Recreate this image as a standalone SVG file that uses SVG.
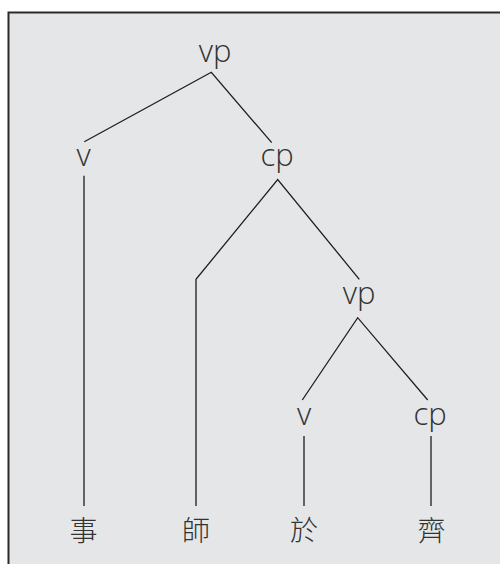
<svg xmlns="http://www.w3.org/2000/svg" width="500" height="564" viewBox="0 0 500 564">
  <style>
    .frame { fill: #e5e6e8; stroke: #2a2a2a; stroke-width: 2; }
    .edge { fill: none; stroke: #1e1e1e; stroke-width: 1.3; stroke-linejoin: miter; }
    .lbl { font-family: "Open Sans", "Liberation Sans", sans-serif; font-weight: 350; font-size: 31px; fill: #333333; text-anchor: middle; }
    .han { font-family: "Noto Sans CJK TC", "Noto Sans CJK JP", sans-serif; font-weight: 300; font-size: 28px; fill: #333333; text-anchor: middle; }
  </style>
  <rect width="500" height="564" fill="#ffffff"/>
  <rect class="frame" x="8.5" y="12.5" width="500" height="560"/>

  <g id="connectors">
    <polyline class="edge" points="84.3,141.7 211.3,72.3 271.7,142.7"/>
    <line class="edge" x1="84" y1="175.7" x2="84" y2="506"/>
    <polyline class="edge" points="196,506 196,279.3 277.7,179.5 359.3,279.3"/>
    <polyline class="edge" points="302.3,400 357.7,317.7 427.7,400"/>
    <line class="edge" x1="304" y1="436" x2="304" y2="506"/>
    <line class="edge" x1="431" y1="436" x2="431" y2="506"/>
  </g>

  <g id="vp-root"><text class="lbl" x="215" y="62">vp</text></g>
  <g id="v-1"><text class="lbl" x="83.5" y="166">v</text></g>
  <g id="cp-1"><text class="lbl" x="277" y="166">cp</text></g>
  <g id="vp-2"><text class="lbl" x="359" y="304">vp</text></g>
  <g id="v-2"><text class="lbl" x="304" y="425">v</text></g>
  <g id="cp-2"><text class="lbl" x="430" y="425">cp</text></g>

  <g id="w-shi"><text class="han" x="83.5" y="541">事</text></g>
  <g id="w-shi2"><text class="han" x="196" y="541">師</text></g>
  <g id="w-yu"><text class="han" x="304" y="541">於</text></g>
  <g id="w-qi"><text class="han" x="431.5" y="541">齊</text></g>
</svg>
